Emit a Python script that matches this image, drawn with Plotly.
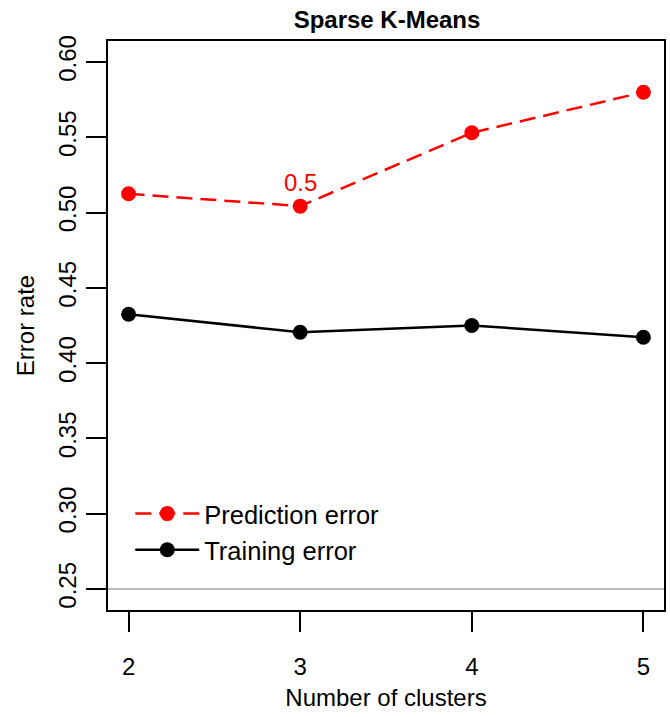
import plotly.graph_objects as go

clusters = [2, 3, 4, 5]
prediction_error = [0.5125, 0.5043, 0.5530, 0.5800]
training_error = [0.4325, 0.4205, 0.4250, 0.4172]
y_ticks = [0.25, 0.30, 0.35, 0.40, 0.45, 0.50, 0.55, 0.60]
baseline = 0.25
label_text = "0.5"
label_x = 3
label_y = 0.5203

FONT = "Liberation Sans, Arial, sans-serif"

fig = go.Figure()
fig.add_trace(go.Scatter(
    x=clusters, y=prediction_error, mode="lines+markers",
    name="Prediction error",
    line=dict(color="#ff0000", width=2.5, dash="16px,8px"),
    marker=dict(color="#ff0000", size=15),
))
fig.add_trace(go.Scatter(
    x=clusters, y=training_error, mode="lines+markers",
    name="Training error",
    line=dict(color="#000000", width=2.5),
    marker=dict(color="#000000", size=15),
))

fig.add_shape(type="line", xref="paper", x0=0, x1=1, yref="y", y0=baseline, y1=baseline,
              line=dict(color="#bebebe", width=2), layer="below")

fig.add_annotation(x=label_x, y=label_y, text=label_text, showarrow=False,
                   font=dict(color="#ff0000", size=24, family=FONT),
                   xanchor="center", yanchor="middle")

fig.update_layout(
    width=670, height=717,
    margin=dict(l=108, r=4, t=41, b=107),
    paper_bgcolor="white", plot_bgcolor="white",
    font=dict(family=FONT, size=24, color="black"),
    title=dict(text="<b>Sparse K-Means</b>", x=387 / 670,
               xanchor="center", y=1 - 20 / 717, yanchor="middle",
               font=dict(size=24, family=FONT, color="black")),
    showlegend=True,
    legend=dict(x=0.04, y=0.137, xanchor="left", yanchor="middle",
                bgcolor="rgba(0,0,0,0)", font=dict(size=25.5, family=FONT),
                itemwidth=64, tracegroupgap=0),
)
fig.update_xaxes(
    range=[1.88, 5.12], tickvals=clusters, ticktext=[str(c) for c in clusters],
    showgrid=False, zeroline=False, showline=True, mirror=True,
    linecolor="black", linewidth=2, ticks="outside", ticklen=20, tickwidth=2,
    tickcolor="black", ticklabelstandoff=14,
    title=dict(text="Number of clusters", standoff=10, font=dict(size=24)),
    tickfont=dict(size=24),
)
fig.update_yaxes(
    range=[0.236, 0.614], tickvals=y_ticks, tickformat=".2f",
    showgrid=False, zeroline=False, showline=True, mirror=True,
    linecolor="black", linewidth=2, ticks="outside", ticklen=20, tickwidth=2,
    tickcolor="black", tickangle=-90, ticklabelstandoff=0,
    title=dict(text="Error rate", standoff=13, font=dict(size=24)),
    tickfont=dict(size=24),
)

fig.write_html("out.html")
